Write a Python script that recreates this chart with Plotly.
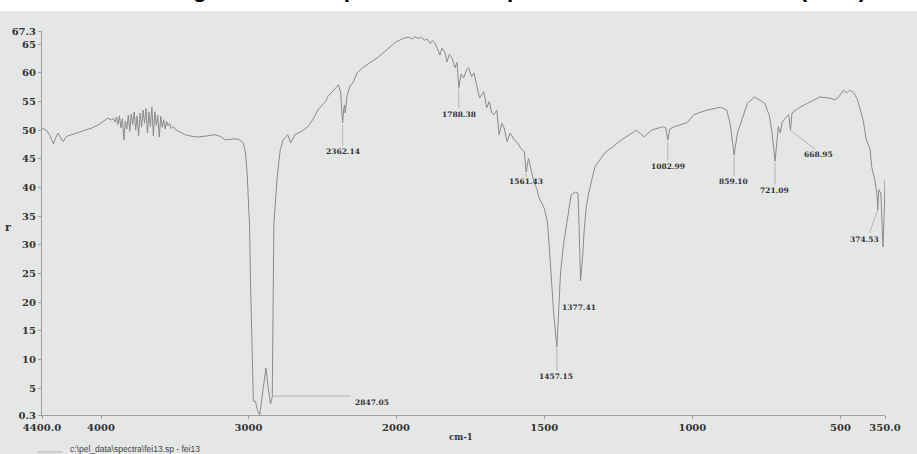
import plotly.graph_objects as go

# ---------------- data ----------------
# wavenumber (cm-1) / transmittance (%T), 4400-2000 cm-1 part of the spectrum
left_wn = [4400, 4370, 4345, 4323, 4305, 4291, 4272, 4256, 4235, 4202, 4150, 4100, 4060, 4020, 3985, 3953, 3930,
           3915, 3905, 3895, 3885, 3875, 3865, 3855, 3845, 3835, 3825, 3815, 3805, 3795, 3785, 3775, 3765, 3755,
           3745, 3735, 3725, 3715, 3705, 3695, 3685, 3675, 3665, 3655, 3645, 3635, 3625, 3615, 3605, 3595, 3585,
           3575, 3565, 3555, 3545, 3535, 3525, 3510, 3490, 3460, 3428, 3380, 3341, 3280, 3225, 3190, 3158, 3120,
           3090, 3060, 3036, 3020, 3008, 2998, 2993, 2985, 2978, 2972, 2967, 2953, 2940, 2924, 2910, 2895, 2882,
           2866, 2851, 2839, 2833, 2828, 2805, 2785, 2765, 2734, 2714, 2685, 2640, 2598, 2560, 2530, 2500, 2477,
           2464, 2430, 2400, 2390, 2375, 2365, 2362, 2356, 2350, 2344, 2332, 2310, 2294, 2263, 2230, 2197, 2160,
           2129, 2095, 2062, 2030, 2000]
left_T = [50.3, 50.0, 49.0, 47.6, 48.8, 49.5, 48.6, 48.0, 48.9, 49.2, 49.6, 50.0, 50.4, 50.9, 51.5, 52.1, 51.8,
          52.0, 51.4, 52.3, 51.0, 52.5, 50.4, 52.0, 48.3, 51.6, 50.2, 52.6, 49.8, 52.8, 51.0, 53.2, 50.0, 52.5,
          49.0, 53.0, 50.5, 53.5, 51.2, 53.8, 49.5, 53.2, 50.6, 54.0, 49.0, 53.2, 50.8, 52.6, 48.8, 52.4, 50.5,
          51.8, 50.2, 51.5, 50.8, 51.2, 50.3, 50.6, 50.0, 49.6, 49.2, 48.9, 48.8, 49.0, 49.2, 48.9, 48.3, 48.4,
          48.5, 48.3, 47.8, 46.0, 42.0, 36.0, 33.6, 22.0, 12.0, 5.0, 2.7, 2.7, 1.2, 0.3, 3.0, 6.5, 8.5,
          5.0, 2.2, 3.4, 20.0, 33.6, 42.0, 46.5, 48.3, 49.2, 47.8, 49.2, 49.8, 50.6, 52.0, 53.5, 54.4, 55.0,
          55.8, 56.8, 57.5, 57.9, 56.5, 52.5, 51.3, 53.2, 54.4, 53.0, 56.0, 57.8, 58.2, 60.0, 60.8, 61.4, 62.0,
          62.6, 63.3, 64.0, 64.8, 65.4]

# 2000-350 cm-1 part of the spectrum
right_wn = [2000, 1985, 1971, 1955, 1945, 1937, 1925, 1915, 1904, 1895, 1885, 1877, 1869, 1860, 1852, 1845, 1835,
            1828, 1820, 1811, 1805, 1801, 1794, 1788, 1780, 1772, 1762, 1755, 1745, 1737, 1728, 1718, 1704, 1694,
            1685, 1677, 1670, 1660, 1652, 1643, 1635, 1625, 1615, 1601, 1590, 1580, 1567, 1561, 1553, 1545, 1535,
            1525, 1517, 1500, 1489, 1478, 1468, 1457.15, 1450, 1445, 1435, 1424, 1415, 1409, 1395, 1386, 1382,
            1377.41, 1370, 1365, 1358, 1349, 1329, 1296, 1239, 1189, 1162, 1138, 1100, 1090, 1083, 1076, 1061,
            1018, 995, 951, 904, 884, 872, 859.1, 848, 833, 814, 790, 756, 740, 731, 721.09, 716, 710, 703, 697,
            685, 675, 668.95, 664, 637, 603, 570, 540, 519, 506, 490, 479, 469, 455, 443, 424, 413, 400, 395, 385,
            380, 377, 374.53, 371, 364, 357, 352, 350]
right_T = [65.4, 65.8, 66.1, 66.2, 65.9, 66.3, 66.0, 66.2, 65.7, 65.9, 65.1, 65.6, 65.2, 64.2, 63.1, 64.3, 63.6,
           61.9, 63.2, 62.6, 61.5, 60.9, 61.8, 57.4, 59.8, 59.1, 60.5, 60.9, 59.3, 60.0, 57.9, 55.6, 56.7, 53.9,
           55.0, 53.0, 52.7, 53.5, 49.2, 51.2, 50.4, 48.0, 49.5, 48.3, 47.8, 46.9, 46.2, 42.7, 45.1, 43.0, 41.0,
           39.8, 38.2, 36.4, 34.0, 26.0, 18.0, 12.2, 18.6, 24.9, 30.0, 33.6, 36.6, 38.7, 39.2, 39.0, 33.0,
           23.7, 28.0, 32.6, 36.6, 39.2, 43.6, 46.0, 48.3, 50.0, 48.8, 50.0, 50.6, 50.4, 48.3, 50.2, 50.6,
           51.3, 52.7, 53.5, 54.0, 53.5, 51.0, 45.7, 49.5, 51.8, 54.7, 55.8, 54.7, 52.5, 49.5, 44.6, 47.0, 50.6,
           49.5, 51.4, 52.2, 52.7, 50.0, 53.0, 54.0, 54.9, 55.8, 55.6, 55.3, 55.8, 57.0, 56.5, 57.0, 56.5, 55.3,
           51.8, 48.3, 46.6, 43.6, 41.5, 40.1, 38.7, 36.1, 39.6, 39.0, 29.6, 36.6, 41.3]

# axis ticks
y_ticks = [0.3, 5, 10, 15, 20, 25, 30, 35, 40, 45, 50, 55, 60, 65, 67.3]
y_ticktext = ["0.3", "5", "10", "15", "20", "25", "30", "35", "40", "45", "50", "55", "60", "65", "67.3"]
x_left_ticks = [4400, 4000, 3000, 2000]
x_left_ticktext = ["4400.0", "4000", "3000", "2000"]
x_right_ticks = [1500, 1000, 500, 350]
x_right_ticktext = ["1500", "1000", "500", "350.0"]

# peak labels: text, axis, leader start (wn, T), leader end (wn, T), text centre (wn, T)
peak_text = ["2362.14", "2847.05", "1788.38", "1561.43", "1457.15", "1377.41", "1082.99", "859.10", "721.09",
             "668.95", "374.53"]
peak_axis = ["x", "x", "x2", "x2", "x2", "x2", "x2", "x2", "x2", "x2", "x2"]
lead_x0 = [2362, 2839, 1788.38, 1561.43, 1457.15, None, 1082.99, 859.1, 721.09, 668.95, 374.53]
lead_y0 = [51.0, 3.6, 57.2, 42.5, 12.0, None, 48.1, 45.5, 44.4, 50.0, 36.1]
lead_x1 = [2362, 2309, 1788.38, 1561.43, 1457.15, None, 1082.99, 859.1, 721.09, 585, 402]
lead_y1 = [47.3, 3.6, 53.9, 41.8, 8.0, None, 44.7, 42.0, 40.5, 46.6, 32.1]
label_x = [2362, 2163, 1788, 1562, 1460, 1381, 1083, 860, 722, 573, 420]
label_y = [46.2, 2.4, 52.8, 41.0, 7.1, 19.1, 43.6, 41.0, 39.4, 45.7, 31.0]

# ---------------- styling ----------------
BG = "#e5e7e6"
LINE = "#8a8a8a"
AXIS = "#a0a0a0"
TXT = "#333333"
SERIF = "DejaVu Serif"

W, H = 917, 454
ML, MR, MT, MB = 42, 32, 31, 39
PW, PH = W - ML - MR, H - MT - MB
split = (396 - ML) / PW  # 2000 cm-1 position


def px(xp):
    return (xp - ML) / PW


def py(yp):
    return (H - MB - yp) / PH


fig = go.Figure()
fig.add_trace(go.Scatter(x=left_wn, y=left_T, mode="lines", xaxis="x", yaxis="y",
                         line=dict(color=LINE, width=1), showlegend=False, hoverinfo="skip"))
fig.add_trace(go.Scatter(x=right_wn, y=right_T, mode="lines", xaxis="x2", yaxis="y",
                         line=dict(color=LINE, width=1), showlegend=False, hoverinfo="skip"))

tickfont = dict(family=SERIF, size=10, color=TXT, weight="bold")
common_x = dict(showline=True, linecolor=AXIS, linewidth=1, ticks="outside", ticklen=3, tickcolor=AXIS,
                showgrid=False, zeroline=False, tickfont=tickfont, anchor="y", fixedrange=True)

shapes = []
# white band at the very top of the photo
shapes.append(dict(type="rect", xref="paper", yref="paper", x0=-0.2, x1=1.2, y0=py(11), y1=1.3,
                   fillcolor="white", line=dict(width=0), layer="below"))
# leader lines of the peak labels
for ax_, x0, y0, x1, y1 in zip(peak_axis, lead_x0, lead_y0, lead_x1, lead_y1):
    if x0 is None:
        continue
    shapes.append(dict(type="line", xref=ax_, yref="y", x0=x0, y0=y0, x1=x1, y1=y1,
                       line=dict(color="#a8a8a8", width=0.8)))
# legend line sample
shapes.append(dict(type="line", xref="paper", yref="paper", x0=px(37), x1=px(63), y0=py(452), y1=py(452),
                   line=dict(color="#b4b4b4", width=1)))

annotations = []
for t, ax_, lx, ly in zip(peak_text, peak_axis, label_x, label_y):
    annotations.append(dict(text=t, xref=ax_, yref="y", x=lx, y=ly, showarrow=False,
                            xanchor="center", yanchor="middle",
                            font=dict(family=SERIF, size=7.5, color=TXT, weight="bold")))
annotations.append(dict(text="cm-1", xref="paper", yref="paper", x=px(461), y=py(437), showarrow=False,
                        xanchor="center", yanchor="middle",
                        font=dict(family=SERIF, size=8.5, color=TXT, weight="bold")))
annotations.append(dict(text="r", xref="paper", yref="paper", x=px(8), y=py(228), showarrow=False,
                        xanchor="center", yanchor="middle",
                        font=dict(family=SERIF, size=11, color=TXT, weight="bold")))
annotations.append(dict(text=r"c:\pel_data\spectra\fei13.sp - fei13", xref="paper", yref="paper",
                        x=px(68), y=py(449), xanchor="left", yanchor="middle", showarrow=False,
                        font=dict(family="Liberation Sans", size=8.5, color="#444444")))
# title of the figure, cut off at the top of the photo (only the descenders show)
annotations.append(dict(text="Figure 3: FTIR spectrum of the product obtained at 450 °C (PEW)",
                        xref="paper", yref="paper", x=px(171), y=py(4), xanchor="left", yanchor="bottom",
                        showarrow=False,
                        font=dict(family="Liberation Sans", size=22.6, color="black", weight="bold")))

fig.update_layout(
    width=W, height=H,
    margin=dict(l=ML, r=MR, t=MT, b=MB, pad=0),
    paper_bgcolor=BG, plot_bgcolor="rgba(0,0,0,0)",
    xaxis=dict(domain=[0, split], range=[4400, 2000], tickvals=x_left_ticks, ticktext=x_left_ticktext,
               **common_x),
    xaxis2=dict(domain=[split, 1], range=[2000, 350], tickvals=x_right_ticks, ticktext=x_right_ticktext,
                **common_x),
    yaxis=dict(domain=[0, 1], range=[0.3, 67.3], tickvals=y_ticks, ticktext=y_ticktext, showline=True,
               linecolor=AXIS, linewidth=1, ticks="outside", ticklen=3, tickcolor=AXIS, showgrid=False,
               zeroline=False, tickfont=dict(family=SERIF, size=10, color=TXT, weight="bold"),
               anchor="x", fixedrange=True),
    shapes=shapes,
    annotations=annotations,
    showlegend=False,
)

fig.write_html("out.html", config=dict(displayModeBar=False, staticPlot=True))
